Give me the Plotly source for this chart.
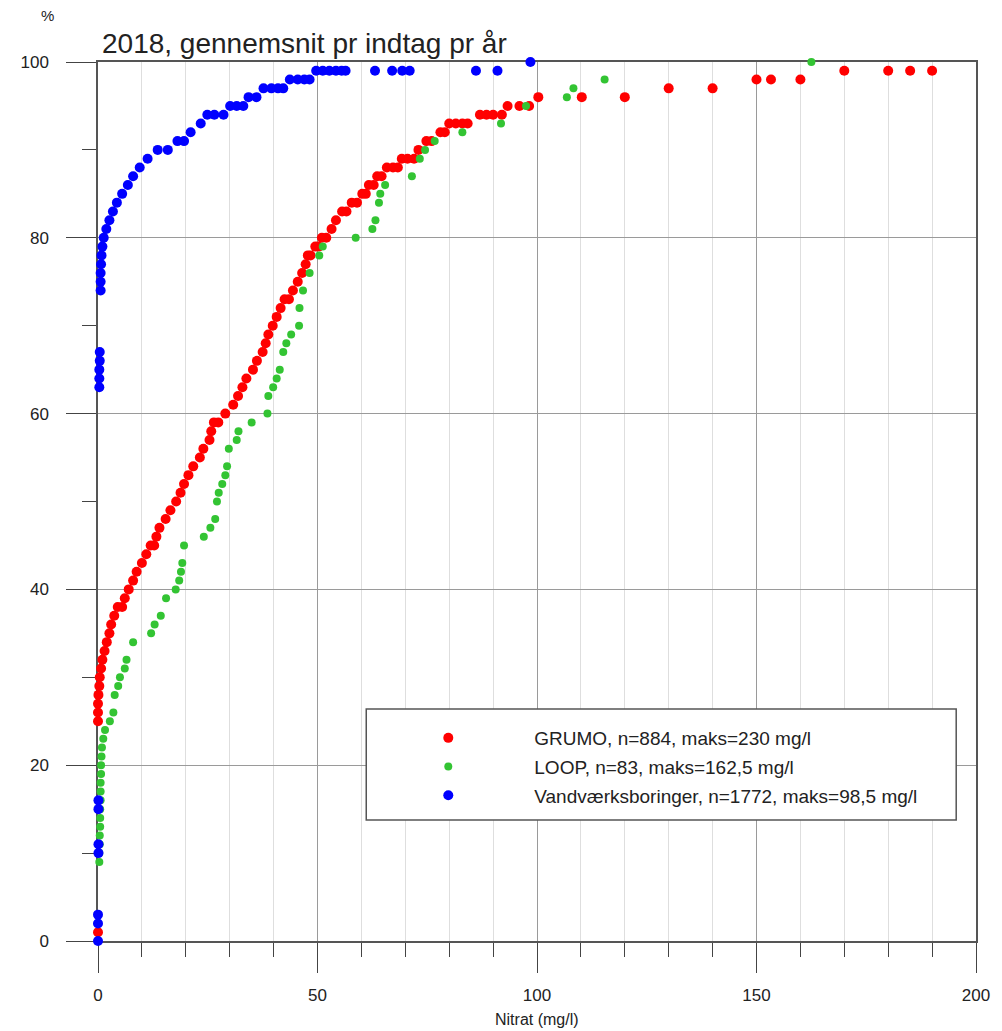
import plotly.graph_objects as go

# ---- data ----
grumo_x = [0, 0, 0, 0, 0.1, 0.3, 0.4, 0.7, 1.0, 1.5, 2.0, 2.6, 3.0, 3.7, 4.5, 5.5, 6.1, 7.0, 8.0, 8.8,
           10.0, 11.0, 12.0, 12.8, 13.3, 14.0, 15.4, 16.5, 17.8, 18.8, 19.6, 20.6, 21.7, 23.2, 24.0,
           25.4, 25.8, 26.4, 27.4, 29.0, 30.8, 31.9, 32.9, 33.8, 35.3, 36.2, 37.5, 38.2, 38.8,
           39.8, 40.7, 41.6, 42.5, 43.5, 44.4, 45.5, 46.5, 47.3, 47.8, 48.4, 49.5, 50.2, 51.0, 52.0,
           53.2, 54.2, 55.6, 56.6, 57.8, 59.0, 60.2, 61.0, 61.7, 62.8, 63.6, 64.6, 65.8, 67.2, 68.3,
           69.2, 70.5, 72.0, 73.0, 74.8, 76.0, 78.0, 79.0, 80.0, 81.5, 83.0, 84.2,
           87.0, 88.5, 90.0, 92.0, 93.3, 96.0, 98.2, 100.3, 110.2, 120.0, 130.0, 140.0,
           150.0, 153.3, 160.0, 170.0, 180.0, 185.0, 190.0]
grumo_y = [1, 25, 26, 27, 28, 29, 30, 31, 32, 33, 34, 35, 36, 37, 38, 38, 39, 40, 41, 42,
           43, 44, 45, 45, 46, 47, 48, 49, 50, 51, 52, 53, 54, 55, 56,
           57, 58, 59, 59, 60, 61, 62, 63, 64, 65, 66, 67, 68, 69,
           70, 71, 72, 73, 73, 74, 75, 76, 77, 78, 78, 79, 79, 80, 80,
           81, 82, 83, 83, 84, 84, 85, 85, 86, 86, 87, 87, 88, 88, 88,
           89, 89, 89, 90, 91, 91, 92, 92, 93, 93, 93, 93,
           94, 94, 94, 94, 95, 95, 95, 96, 96, 96, 97, 97,
           98, 98, 98, 99, 99, 99, 99]

loop_x = [0.3, 0.3, 0.4, 0.4, 0.5, 0.5, 0.5, 0.6, 0.6, 0.6, 0.7, 0.7, 0.8, 0.9,
          1.2, 1.6, 2.7, 3.5, 3.8, 4.6, 5.0, 6.1, 6.5, 8.0, 12.1, 12.9, 14.3, 15.5, 17.7,
          18.5, 18.9, 19.2, 19.6, 24.1, 25.6, 26.7, 27.1, 27.5, 28.3, 29.0, 29.4, 29.8,
          31.6, 32.0, 35.0, 38.6, 38.8, 39.9, 40.7, 41.4, 42.2, 42.9, 44.0, 45.8, 45.9,
          46.7, 48.2, 50.4, 51.2, 58.7, 62.5, 63.2, 64.0, 64.3, 65.4, 71.5, 73.3, 74.5,
          76.7, 83.0, 91.8, 97.5, 106.8, 108.3, 115.4, 162.5]
loop_y = [9, 10, 11, 12, 13, 14, 15, 16, 17, 18, 19, 20, 21, 22,
          23, 24, 25, 26, 28, 29, 30, 31, 32, 34, 35, 36, 37, 39, 40,
          41, 42, 43, 45, 46, 47, 48, 50, 51, 52, 53, 54, 56,
          57, 58, 59, 60, 62, 63, 64, 65, 67, 68, 69, 70, 72,
          74, 76, 78, 79, 80, 81, 82, 84, 85, 86, 87, 89, 90,
          91, 92, 93, 95, 96, 97, 98, 100]

vand_x = [0, 0, 0, 0.1, 0.1, 0.1, 0.1, 0.3, 0.3, 0.3, 0.4, 0.4,
          0.6, 0.6, 0.6, 0.7, 0.8, 1.0, 1.3, 1.9, 2.6, 3.4, 4.3, 5.5, 6.8, 8.0, 9.5, 11.3,
          13.6, 15.9, 18.1, 19.6, 21.1, 23.4, 24.9, 26.5, 28.6, 30.1, 31.6, 33.1, 34.3, 36.1,
          37.7, 39.5, 41.0, 42.2, 43.7, 45.5, 47.0, 48.2,
          49.7, 51.2, 52.7, 54.2, 55.5, 56.4, 63.1, 67.0, 69.3, 71.0, 86.1, 91.0, 98.5]
vand_y = [0, 2, 3, 10, 11, 15, 16, 63, 64, 65, 66, 67,
          74, 75, 76, 77, 78, 79, 80, 81, 82, 83, 84, 85, 86, 87, 88, 89,
          90, 90, 91, 91, 92, 93, 94, 94, 94, 95, 95, 95, 96, 96,
          97, 97, 97, 97, 98, 98, 98, 98,
          99, 99, 99, 99, 99, 99, 99, 99, 99, 99, 99, 99, 100]

names = ["GRUMO, n=884, maks=230 mg/l",
         "LOOP, n=83, maks=162,5 mg/l",
         "Vandværksboringer, n=1772, maks=98,5 mg/l"]
colors = ["#ff0000", "#33c433", "#0000ff"]

FONT = "Liberation Sans, Arial, sans-serif"

fig = go.Figure()
series = [(grumo_x, grumo_y, 10), (loop_x, loop_y, 8), (vand_x, vand_y, 10)]
for i, (xs, ys, sz) in enumerate(series):
    fig.add_trace(go.Scatter(
        x=xs, y=ys, mode="markers", name=names[i],
        marker=dict(color=colors[i], size=sz, line=dict(width=0)),
        cliponaxis=False, legendgroup=f"g{i}"))

# page has an 8px body margin -> work in figure coordinates
OFF = 8
W, H = 1002 - OFF, 1031 - OFF
L, T = 93 - OFF, 62 - OFF
R = W - (980 - OFF)
B = H - (941 - OFF)
pw, ph = W - L - R, H - T - B

def px(page_x):
    return (page_x - OFF - L) / pw

def py(page_y):
    return (H - B - (page_y - OFF)) / ph

axis_common = dict(
    showline=True, linecolor="#555555", linewidth=1.5, mirror=True,
    ticks="outside", tickcolor="#444444", tickwidth=1.3, ticklen=30,
    zeroline=False, layer="below traces",
    tickfont=dict(family=FONT, size=17, color="#222222"),
)

fig.update_xaxes(range=[0, 200], tick0=0, dtick=50, showgrid=True,
                 gridcolor="#9a9a9a", gridwidth=1,
                 ticklabelstandoff=8,
                 minor=dict(dtick=10, ticks="outside", ticklen=14, tickcolor="#444444",
                            tickwidth=1.2, showgrid=True, gridcolor="#dedede", gridwidth=1),
                 **axis_common)
fig.update_yaxes(range=[0, 100], tick0=0, dtick=20, showgrid=True,
                 gridcolor="#9a9a9a", gridwidth=1,
                 ticklabelstandoff=14,
                 minor=dict(dtick=10, ticks="outside", ticklen=14, tickcolor="#444444",
                            tickwidth=1.2, showgrid=False),
                 **axis_common)

# legend box
fig.add_shape(type="rect", xref="paper", yref="paper",
              x0=px(364), x1=px(960), y0=py(820), y1=py(709),
              line=dict(color="#555555", width=1.5), fillcolor="white", layer="above")

fig.update_layout(
    width=W, height=H,
    margin=dict(l=L, r=R, t=T, b=B),
    paper_bgcolor="white", plot_bgcolor="white",
    font=dict(family=FONT, color="#222222"),
    showlegend=True,
    legend=dict(x=px(360), y=py(719), xanchor="left", yanchor="top",
                bgcolor="rgba(0,0,0,0)", borderwidth=0,
                font=dict(family=FONT, size=19, color="#222222"),
                itemwidth=162, tracegroupgap=1),
    annotations=[
        dict(text="2018, gennemsnit pr indtag pr år", xref="paper", yref="paper",
             x=px(95), y=py(44), xanchor="left", yanchor="middle", showarrow=False,
             font=dict(family=FONT, size=28, color="#222222")),
        dict(text="%", xref="paper", yref="paper",
             x=px(42), y=py(16), xanchor="center", yanchor="middle", showarrow=False,
             font=dict(family=FONT, size=15, color="#222222")),
        dict(text="Nitrat (mg/l)", xref="paper", yref="paper",
             x=0.5, y=py(1020), xanchor="center", yanchor="middle", showarrow=False,
             font=dict(family=FONT, size=16, color="#222222")),
    ],
)

fig.write_html("out.html")
